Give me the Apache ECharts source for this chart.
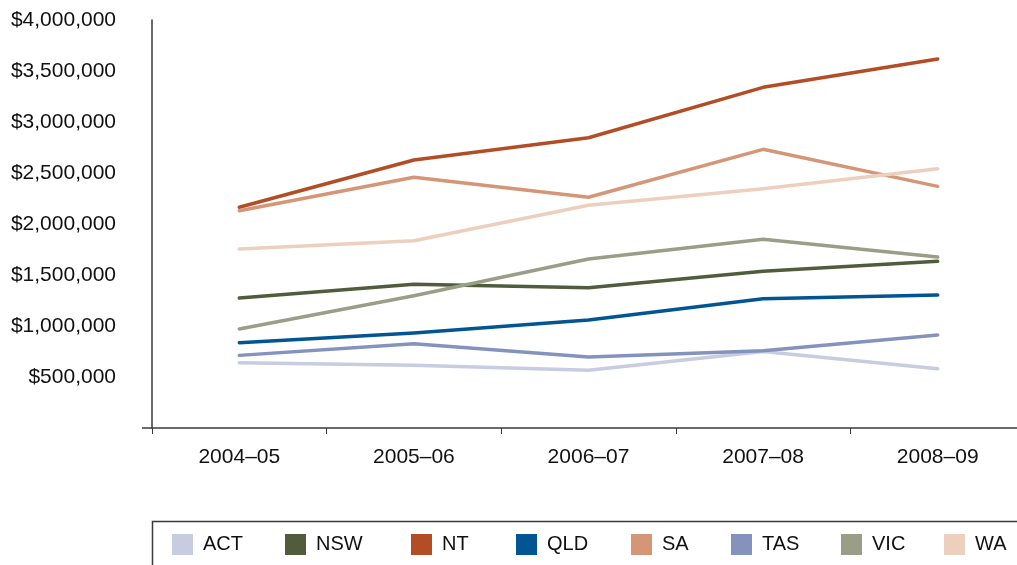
<!DOCTYPE html>
<html>
<head>
<meta charset="utf-8">
<style>
  html, body { margin: 0; padding: 0; background: #ffffff; overflow: hidden; }
  #chart { width: 1030px; height: 565px; }
</style>
<script src="https://cdn.jsdelivr.net/npm/echarts@6/dist/echarts.min.js"></script>
</head>
<body>
<div id="chart"></div>
<script>
// Financial years on the category axis
const years = ['2004–05', '2005–06', '2006–07', '2007–08', '2008–09'];

// Annual totals by state / territory (dollars)
const act = [640000, 614000, 566000, 750000, 581000];
const nsw = [1274000, 1409000, 1376000, 1536000, 1634000];
const nt  = [2164000, 2628000, 2846000, 3340000, 3618000];
const qld = [836000, 932000, 1059000, 1268000, 1304000];
const sa  = [2130000, 2458000, 2262000, 2732000, 2369000];
const tas = [712000, 825000, 696000, 757000, 912000];
const vic = [971000, 1297000, 1657000, 1850000, 1676000];
const wa  = [1755000, 1836000, 2183000, 2346000, 2542000];

const seriesNames = ['ACT', 'NSW', 'NT', 'QLD', 'SA', 'TAS', 'VIC', 'WA'];
const seriesValues = [act, nsw, nt, qld, sa, tas, vic, wa];

// Y axis range and step
const yMin = 0;
const yMax = 4000000;
const yStep = 500000;

const colors = ['#c7cce1', '#505c3b', '#b34d26', '#005592', '#d49677', '#8393be', '#9a9e87', '#edcfbe'];
// left edge of each legend entry
const legendLeft = [172, 285, 411, 516, 631, 731, 841, 944];

const FONT = '"Liberation Sans", Arial, Helvetica, sans-serif';
const AXIS_COLOR = '#3a3a3a';

function money(v) {
  return '$' + String(v).replace(/\B(?=(\d{3})+(?!\d))/g, ',');
}

const chart = echarts.init(document.getElementById('chart'), null, { renderer: 'canvas' });

const option = {
  animation: false,
  backgroundColor: '#ffffff',
  color: colors,
  textStyle: { fontFamily: FONT },
  grid: { left: 152, top: 20, width: 873, height: 408, containLabel: false },
  xAxis: {
    type: 'category',
    data: years,
    boundaryGap: true,
    axisLine: { show: true, lineStyle: { color: AXIS_COLOR, width: 1.5 } },
    axisTick: { show: true, length: 6, lineStyle: { color: AXIS_COLOR, width: 1 } },
    axisLabel: { color: '#111', fontSize: 21, fontFamily: FONT, margin: 19 },
    splitLine: { show: false }
  },
  yAxis: {
    type: 'value',
    min: yMin,
    max: yMax,
    interval: yStep,
    axisLine: { show: true, lineStyle: { color: AXIS_COLOR, width: 1.5 } },
    axisTick: { show: false },
    splitLine: { show: false },
    axisLabel: {
      color: '#111',
      fontSize: 21,
      fontFamily: FONT,
      margin: 36,
      formatter: function (v) { return v === 0 ? '' : money(v); }
    }
  },
  legend: seriesNames.map(function (name, i) {
    return {
      data: [name],
      left: legendLeft[i],
      top: 534,
      padding: 0,
      orient: 'horizontal',
      icon: 'rect',
      itemWidth: 21,
      itemHeight: 21,
      selectedMode: false,
      textStyle: { fontSize: 20, color: '#111', fontFamily: FONT, padding: [4, 0, 0, 5] }
    };
  }),
  series: seriesNames.map(function (name, i) {
    return {
      name: name,
      type: 'line',
      data: seriesValues[i],
      symbol: 'none',
      smooth: false,
      lineStyle: { width: 3.5, color: colors[i], cap: 'round', join: 'round' },
      itemStyle: { color: colors[i] }
    };
  })
};

chart.setOption(option);

// Frame around the legend and the short extension of the baseline past the y axis
const gridRect = chart.getModel().getComponent('grid').coordinateSystem.getRect();
chart.setOption({
  graphic: [
    {
      type: 'line',
      shape: { x1: gridRect.x - 10, y1: gridRect.y + gridRect.height, x2: gridRect.x, y2: gridRect.y + gridRect.height },
      style: { stroke: AXIS_COLOR, lineWidth: 1.5 },
      silent: true
    },
    {
      type: 'rect',
      shape: { x: gridRect.x + 0.5, y: 521.5, width: 1000, height: 100 },
      style: { fill: 'none', stroke: AXIS_COLOR, lineWidth: 1.5 },
      silent: true
    }
  ]
});
</script>
</body>
</html>
